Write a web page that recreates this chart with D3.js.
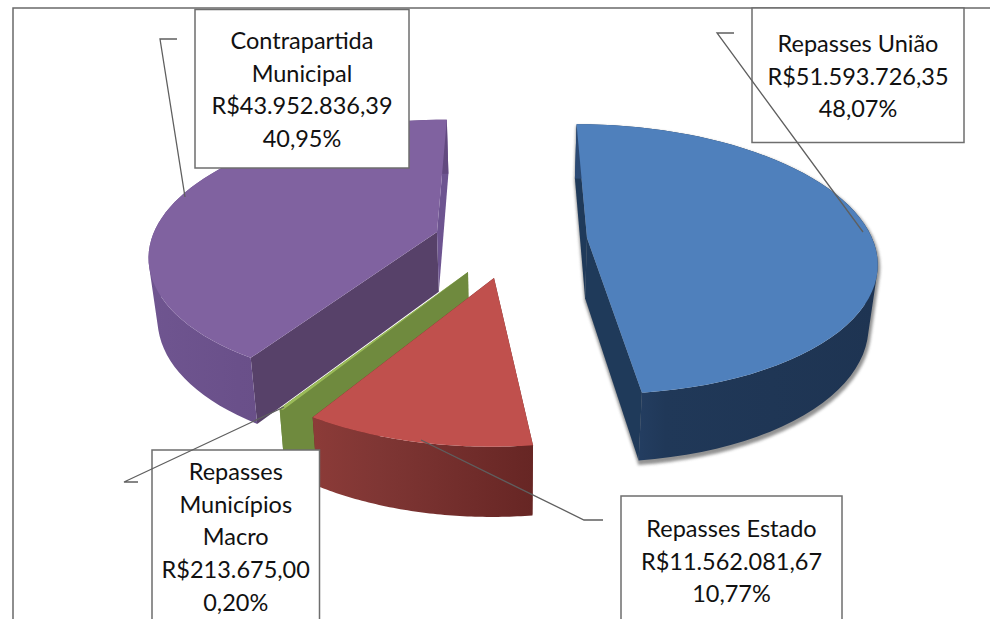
<!DOCTYPE html>
<html><head><meta charset="utf-8">
<script src="https://cdn.jsdelivr.net/npm/d3@7/dist/d3.min.js"></script>
<style>html,body{margin:0;padding:0;background:#fff;overflow:hidden}svg{display:block}</style>
</head><body><svg id="c" width="990" height="619"></svg>
<script>
const categories = ["Repasses União","Repasses Estado","Repasses Municípios Macro","Contrapartida Municipal"];
const seriesValues = [51593726.35,11562081.67,213675.00,43952836.39];
const moneyLabels = ["R$51.593.726,35","R$11.562.081,67","R$213.675,00","R$43.952.836,39"];
const percentLabels = ["48,07%","10,77%","0,20%","40,95%"];
const labelLines = [["Repasses União"],["Repasses Estado"],["Repasses","Municípios","Macro"],["Contrapartida","Municipal"]];

const topColors = ["#4f80bc","#c0504d","#9bbb59","#8062a0"];
const wallLeft  = ["#2b4a75","#8c3b38","#6f8a3e","#6f5590"];
const wallMid   = ["#203858","#7f3634","#6f8a3e","#6a508a"];
const wallRight = ["#1e3452","#672624","#6f8a3e","#62497f"];
const startCut = ["#1f3a5a","#672624","#6f8a3e","#574169"];
const endCut   = ["#1f3a5a","#672624","#6f8a3e","#6d5490"];
const apex = [[587,238],[494,278],[468,272],[437,232]];
const radiusFactor = [1,0.98,0.985,1];
const boxes = [[752,8,212,134.5],[621,496,221,140],[152,450,167.5,180],[195,9.5,214,158.5]];
const firstBaseline = [52,537,480,49];
const leaders = [[[734,33],[717,33],[863,232]],[[603,520],[584,520],[421,440]],[[138,482],[124,482],[284,407]],[[177,39],[160,39],[185,197]]];

const VX=510,VY=235,P=0.156,RX=284,RY=130.7,DEPTH=60,BOTTOM_K=0.975;
const svg=d3.select("#c"), defs=svg.append("defs");
const sc=Y=>1/(1+P*Y);
const pie=d3.pie().sort(null)(seriesValues);
const world=apex.map(([sx,sy],i)=>{const t=(VY-sy)/RY;const Y=t/(1-P*t);return {X:(sx-VX)/sc(Y),Y,r:radiusFactor[i]};});
const proj=(w,a,r,bottom)=>{
  const X=w.X+r*w.r*RX*Math.sin(a),Y=w.Y+r*w.r*Math.cos(a),s=sc(Y);
  const x=VX+X*s,y=VY-RY*Y*s;
  return bottom?[VX+(x-VX)*BOTTOM_K,y+DEPTH*Math.pow(s,0.7)]:[x,y];
};
const line=d3.line();
const arcPts=(w,a0,a1,bottom)=>d3.range(0,61).map(i=>proj(w,a0+(a1-a0)*i/60,1,bottom));
// union of small quads, all wound the same way, so the silhouette stays closed
const quadPath=q=>{const o=d3.polygonArea(q)<0?q.slice().reverse():q;return line(o)+"Z";};

const f=defs.append("filter").attr("id","sh").attr("x","-10%").attr("y","-10%").attr("width","125%").attr("height","125%");
f.append("feGaussianBlur").attr("stdDeviation",1.8);

[0,1,2,3].forEach(i=>{
  const g=defs.append("linearGradient").attr("id","w"+i);
  g.append("stop").attr("offset",0).attr("stop-color",wallLeft[i]);
  g.append("stop").attr("offset",0.3).attr("stop-color",wallMid[i]);
  g.append("stop").attr("offset",1).attr("stop-color",wallRight[i]);
});
const chart=svg.append("g");
[3,2,1,0].forEach(i=>{
  const w=world[i],d=pie[i],g=chart.append("g");
  const a0=d.startAngle,a1=d.endAngle;
  const c=proj(w,0,0,false),cb=proj(w,0,0,true);
  const rimTop=arcPts(w,a0,a1,false),rimBot=arcPts(w,a0,a1,true);
  const wallD=d3.range(0,60).map(k=>quadPath([rimTop[k],rimTop[k+1],rimBot[k+1],rimBot[k]])).join("");
  const startQuad=[c,rimTop[0],rimBot[0],cb];
  const endQuad=[c,rimTop[60],rimBot[60],cb];
  if(i===0){
    g.append("path").attr("d",wallD+quadPath(startQuad)+quadPath(endQuad))
      .attr("fill","#777").attr("stroke","#777").attr("stroke-width",3).attr("opacity",.8)
      .attr("filter","url(#sh)").attr("transform","translate(1,3)");
  }
  g.append("path").attr("d",line(startQuad)+"Z").attr("fill",startCut[i]);
  g.append("path").attr("d",line(endQuad)+"Z").attr("fill",endCut[i]);
  g.append("path").attr("d",wallD).attr("fill",`url(#w${i})`);
  g.append("path").attr("d",line([c].concat(rimTop))+"Z").attr("fill",topColors[i]);
});

svg.append("path").attr("d",d3.line()([[13,619],[13,8],[990,8]])).attr("fill","none").attr("stroke","#6a6a6a").attr("stroke-width",1.5);

[0,1,2,3].forEach(i=>{
  const [x,y,w,h]=boxes[i];
  svg.append("rect").attr("x",x).attr("y",y).attr("width",w).attr("height",h)
    .attr("fill","#fff").attr("stroke","#6e6e6e").attr("stroke-width",1.5);
  const lines=labelLines[i].concat([moneyLabels[i],percentLabels[i]]);
  svg.append("g").selectAll("text").data(lines).join("text")
    .attr("x",x+w/2).attr("y",(t,j)=>firstBaseline[i]+j*32.7)
    .attr("text-anchor","middle").attr("font-family","Lato").attr("font-size",23.5).attr("fill","#111").text(t=>t);
  svg.append("path").attr("d",line(leaders[i])).attr("fill","none").attr("stroke","#5f5f5f").attr("stroke-width",1.3);
});
</script></body></html>
